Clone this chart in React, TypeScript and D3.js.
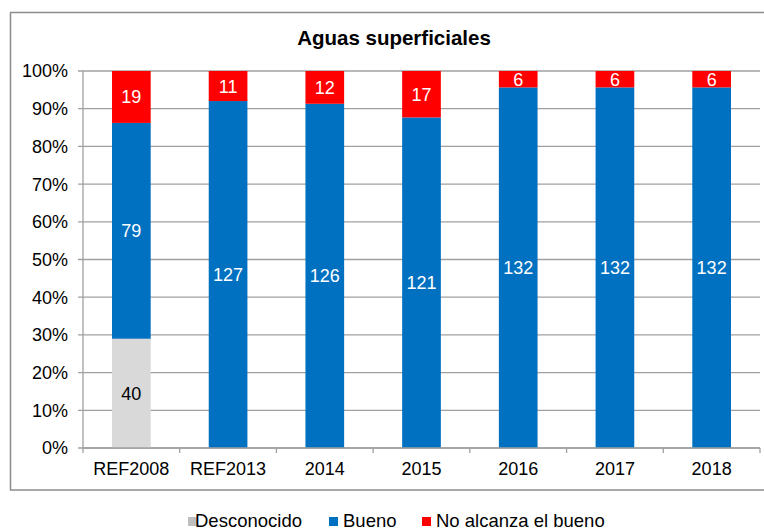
import React from "react";
import * as d3 from "d3";

// Data
const categories = ["REF2008", "REF2013", "2014", "2015", "2016", "2017", "2018"];
const desconocido = [40, 0, 0, 0, 0, 0, 0];
const bueno = [79, 127, 126, 121, 132, 132, 132];
const noAlcanza = [19, 11, 12, 17, 6, 6, 6];
const seriesNames = ["Desconocido", "Bueno", "No alcanza el bueno"];
const yTicks = [0, 0.1, 0.2, 0.3, 0.4, 0.5, 0.6, 0.7, 0.8, 0.9, 1];

const colors = ["#D9D9D9", "#0070C0", "#FF0000"];
const legendColors = ["#BFBFBF", "#0070C0", "#FF0000"];
const labelColors = ["#000000", "#FFFFFF", "#FFFFFF"];

const W = 764;
const H = 529;
const font = "'Liberation Sans', Arial, sans-serif";

const App = () => {
  const left = 83;
  const right = 760;
  const top = 71;
  const bottom = 448;

  const rows = categories.map((c, i) => ({
    cat: c,
    s0: desconocido[i],
    s1: bueno[i],
    s2: noAlcanza[i],
  }));

  const stack = d3
    .stack<any>()
    .keys(["s0", "s1", "s2"])
    .offset(d3.stackOffsetExpand);
  const stacked = stack(rows);

  const x = d3
    .scaleBand()
    .domain(categories)
    .range([left, right])
    .paddingInner(0.6)
    .paddingOuter(0.3);

  const y = d3.scaleLinear().domain([0, 1]).range([bottom, top]);

  const step = x.step();
  const boundaries = d3.range(categories.length + 1).map((i) => left + i * step);

  const legendItems = [
    { sx: 188, tx: 195 },
    { sx: 329, tx: 343 },
    { sx: 422, tx: 436 },
  ];

  return (
    <>
      <style>{`body{margin:0}`}</style>
      <svg width={W} height={H} style={{ display: "block" }} fontFamily={font}>
        <rect x={0} y={0} width={W} height={H} fill="#fff" />
        {/* chart border */}
        <rect x={10.5} y={12.5} width={780} height={477.5} fill="none" stroke="#8c8c8c" strokeWidth={1.5} />

        <text x={394} y={45} textAnchor="middle" fontSize={20.5} fontWeight="bold" fill="#000">
          Aguas superficiales
        </text>

        {/* gridlines + y ticks */}
        {yTicks.map((t) => (
          <g key={t}>
            <line x1={78} x2={right} y1={y(t)} y2={y(t)} stroke="#a0a0a0" strokeWidth={1.3} />
            <text x={68} y={y(t)} dy="0.36em" textAnchor="end" fontSize={18} fill="#000">
              {d3.format(".0%")(t)}
            </text>
          </g>
        ))}
        <line x1={left} x2={left} y1={top} y2={bottom} stroke="#a0a0a0" strokeWidth={1.3} />

        {/* bars */}
        {stacked.map((layer, si) =>
          layer.map((d, i) => {
            const v = (rows[i] as any)[layer.key];
            if (!v) return null;
            const y0 = y(d[0]);
            const y1 = y(d[1]);
            return (
              <g key={`${si}-${i}`}>
                <rect x={x(categories[i])} y={y1} width={x.bandwidth()} height={y0 - y1} fill={colors[si]} />
                <text
                  x={(x(categories[i]) as number) + x.bandwidth() / 2}
                  y={(y0 + y1) / 2}
                  dy="0.36em"
                  textAnchor="middle"
                  fontSize={18}
                  fill={labelColors[si]}
                >
                  {v}
                </text>
              </g>
            );
          })
        )}

        {/* x axis */}
        <line x1={left} x2={right} y1={bottom} y2={bottom} stroke="#a0a0a0" strokeWidth={1.3} />
        {boundaries.map((b, i) => (
          <line key={i} x1={b} x2={b} y1={bottom} y2={bottom + 5} stroke="#a0a0a0" strokeWidth={1.3} />
        ))}
        {categories.map((c) => (
          <text key={c} x={(x(c) as number) + x.bandwidth() / 2} y={475} textAnchor="middle" fontSize={18} fill="#000">
            {c}
          </text>
        ))}

        {/* legend */}
        {seriesNames.map((n, i) => (
          <g key={n}>
            <rect x={legendItems[i].sx} y={517} width={9} height={9} fill={legendColors[i]} />
            <text x={legendItems[i].tx} y={526.5} fontSize={18.5} fill="#000">
              {n}
            </text>
          </g>
        ))}
      </svg>
    </>
  );
};

export default App;
